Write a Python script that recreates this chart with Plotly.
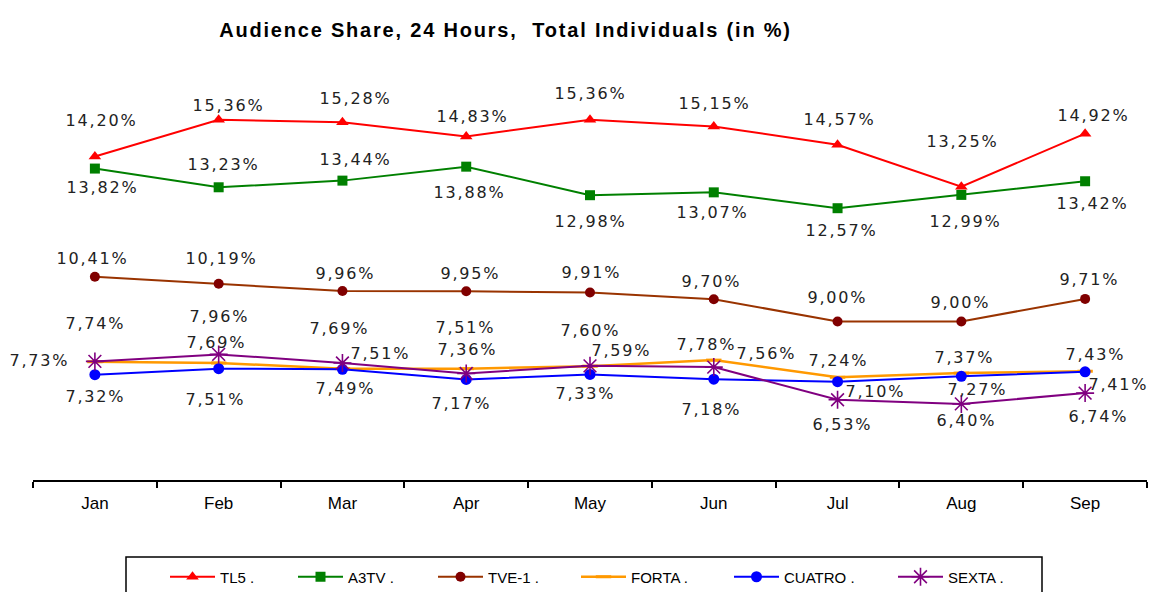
import plotly.graph_objects as go

# ---------------- data ----------------
months = ["Jan", "Feb", "Mar", "Apr", "May", "Jun", "Jul", "Aug", "Sep"]
tl5 = [14.20, 15.36, 15.28, 14.83, 15.36, 15.15, 14.57, 13.25, 14.92]
a3tv = [13.82, 13.23, 13.44, 13.88, 12.98, 13.07, 12.57, 12.99, 13.42]
tve1 = [10.41, 10.19, 9.96, 9.95, 9.91, 9.70, 9.00, 9.00, 9.71]
forta = [7.73, 7.69, 7.51, 7.51, 7.59, 7.78, 7.24, 7.37, 7.43]
cuatro = [7.32, 7.51, 7.49, 7.17, 7.33, 7.18, 7.10, 7.27, 7.41]
sexta = [7.74, 7.96, 7.69, 7.36, 7.60, 7.56, 6.53, 6.40, 6.74]
names = ["TL5 .", "A3TV .", "TVE-1 .", "FORTA .", "CUATRO .", "SEXTA ."]
title_text = "Audience Share, 24 Hours,  Total Individuals (in %)"

# ---------------- styling ----------------
styles = [
    dict(line=dict(color="#FF0000", width=2),
         marker=dict(symbol="triangle-up", size=11, color="#FF0000")),
    dict(line=dict(color="#008000", width=2),
         marker=dict(symbol="square", size=10, color="#008000")),
    dict(line=dict(color="#993300", width=2),
         marker=dict(symbol="circle", size=10, color="#800000")),
    dict(line=dict(color="#FF9900", width=2.5),
         marker=dict(symbol="line-ew-open", size=11, color="#FF9900",
                     line=dict(color="#FF9900", width=3))),
    dict(line=dict(color="#0000FF", width=2),
         marker=dict(symbol="circle", size=11, color="#0000FF")),
    dict(line=dict(color="#800080", width=2),
         marker=dict(symbol="asterisk-open", size=15, color="#800080",
                     line=dict(color="#800080", width=1.6))),
]

# label offsets in screen pixels (dx right, dy down) relative to each point
label_offsets = [
    [(7, -36), (10, -14), (13, -24), (6, -20), (0, -26), (1, -23), (2, -25), (1, -45), (8, -18)],
    [(8, 19), (5, -23), (13, -21), (3, 26), (0, 26), (-1, 20), (4, 22), (4, 27), (7, 22)],
    [(-2, -18), (3, -25), (3, -17), (4, -18), (1, -20), (-2, -18), (0, -24), (-1, -19), (4, -19)],
    [(-55, -1), (-2, -20), (38, -15), (-1, -41), (31, -16), (-7, -16), (1, -17), (3, -16), (10, -17)],
    [(1, 22), (-3, 31), (3, 19), (-5, 24), (-5, 19), (-2, 30), (38, 10), (16, 13), (33, 13)],
    [(1, -38), (1, -38), (-3, -34), (1, -24), (0, -35), (53, -14), (5, 25), (5, 17), (13, 23)],
]

W, H = 1152, 592
ML, MR, MT, MB = 33, 5, 36, 112
PW = W - ML - MR
PH = H - MT - MB

all_series = [tl5, a3tv, tve1, forta, cuatro, sexta]

fig = go.Figure()
legend_ids = ["legend", "legend2", "legend3", "legend4", "legend5", "legend6"]
for name, vals, st, lid in zip(names, all_series, styles, legend_ids):
    fig.add_trace(go.Scatter(x=months, y=vals, name=name, mode="lines+markers",
                             line=st["line"], marker=st["marker"], legend=lid,
                             hoverinfo="x+y+name"))

annotations = []
for vals, offs in zip(all_series, label_offsets):
    for m, v, (dx, dy) in zip(months, vals, offs):
        annotations.append(dict(
            x=m, y=v, xref="x", yref="y", showarrow=False,
            text=f"{v:.2f}".replace(".", ",") + "%",
            xshift=dx, yshift=-dy, xanchor="center", yanchor="middle",
            font=dict(family="DejaVu Sans, Verdana, sans-serif", size=16, color="#222222"),
        ))

# legend entry positions (pixel left edge of each entry, container coordinates)
legend_left_px = [165, 293, 433, 576, 729, 893]
legend_center_py = 577

layout_legends = {}
for lid, px in zip(legend_ids, legend_left_px):
    layout_legends[lid] = dict(
        x=px / W, xanchor="left", xref="container",
        y=1 - legend_center_py / H, yanchor="middle", yref="container",
        orientation="h", bgcolor="rgba(0,0,0,0)", borderwidth=0,
        itemwidth=45,
        font=dict(family="Liberation Sans, Arial, sans-serif", size=15, color="#000000"),
    )

box_left, box_right, box_top, box_bottom = 126, 1042, 557, 600

fig.update_layout(
    width=W, height=H, autosize=False,
    margin=dict(l=ML, r=MR, t=MT, b=MB, autoexpand=False),
    paper_bgcolor="white", plot_bgcolor="white",
    showlegend=True,
    title=dict(text=f"<b>{title_text}</b>", x=505.5 / W, xanchor="center", xref="container",
               y=1 - 30 / H, yanchor="middle", yref="container",
               font=dict(family="Liberation Sans, Arial, sans-serif", size=20, color="#000000")),
    xaxis=dict(type="category", range=[-0.5, 8.5], showgrid=False, zeroline=False,
               showline=True, linecolor="#000000", linewidth=2,
               ticks="outside", tickson="boundaries", ticklen=6, tickwidth=1.5,
               tickcolor="#000000", ticklabelstandoff=7,
               tickfont=dict(family="Liberation Sans, Arial, sans-serif", size=17, color="#000000")),
    yaxis=dict(range=[4, 18], visible=False, showgrid=False, zeroline=False),
    annotations=annotations,
    shapes=[dict(type="rect", xref="paper", yref="paper",
                 x0=(box_left - ML) / PW, x1=(box_right - ML) / PW,
                 y0=(H - MB - box_bottom) / PH, y1=(H - MB - box_top) / PH,
                 line=dict(color="#000000", width=1.5), fillcolor="rgba(0,0,0,0)")],
    **layout_legends,
)

post_js = """
document.documentElement.style.margin = '0';
document.documentElement.style.padding = '0';
document.body.style.margin = '0';
document.body.style.padding = '0';
document.body.style.overflow = 'hidden';
var gd = document.getElementById('{plot_id}');
if (gd) {
  gd.querySelectorAll('.annotation-text').forEach(function(e){ e.style.letterSpacing = '1.8px'; });
  gd.querySelectorAll('.gtitle').forEach(function(e){ e.style.letterSpacing = '1.8px'; });
}
"""

fig.write_html("out.html", post_script=post_js, config={"displayModeBar": False})
